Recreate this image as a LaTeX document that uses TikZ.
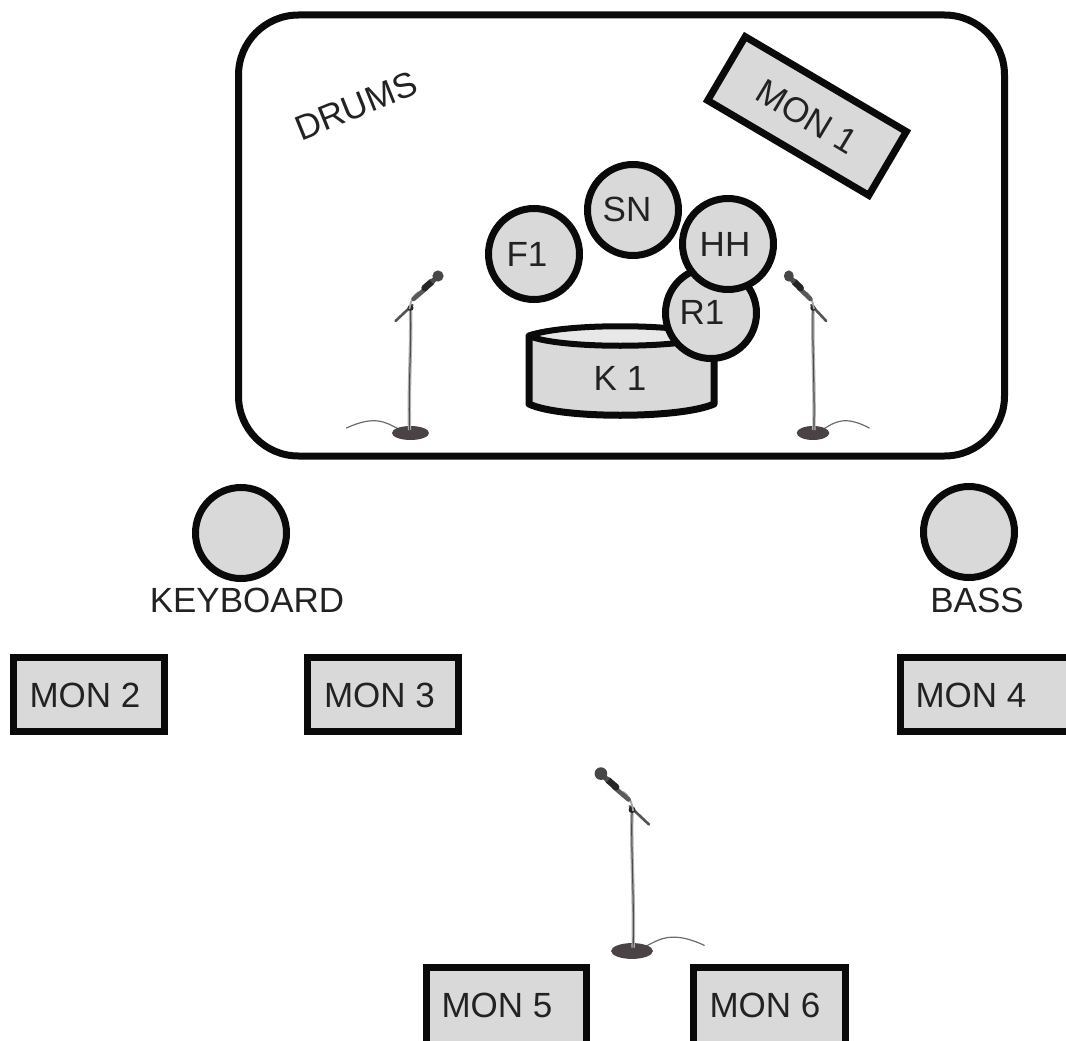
\documentclass[tikz,border=0pt]{standalone}
\usepackage{fontspec}
\setmainfont{Liberation Sans}
\definecolor{fillgray}{HTML}{D9D9D9}
\definecolor{topgray}{HTML}{E8E8E8}
\definecolor{inkc}{HTML}{0A0A0A}
\definecolor{txtc}{HTML}{222222}
\definecolor{basec}{HTML}{4A4245}
\tikzset{
  lab/.style={font=\fontsize{35}{37}\selectfont, text=txtc, inner sep=0pt},
  drumc/.style={circle, draw=inkc, line width=7pt, fill=fillgray, minimum size=91pt, inner sep=0pt, outer sep=0pt},
  monbox/.style={rectangle, draw=inkc, line width=7pt, fill=fillgray, inner sep=0pt, outer sep=0pt},
  mic/.pic={
    \draw[gray!85!black, line width=1.2pt, line cap=round] (-12,-4) .. controls (-25,-11) and (-36,-18) .. (-64,-5);
    \fill[basec] (0,0) ellipse (18.5 and 7);
    \draw[gray!60, line width=3.4pt] (-1,-3) .. controls (-2,-50) and (1,-90) .. (0,-122);
    \draw[black!70, line width=1.1pt] (-1,-3) .. controls (-2,-50) and (1,-90) .. (0,-122);
    \draw[gray!65!black, line width=2.6pt, line cap=round] (-15,-112) -- (2,-128);
    \fill[black!85] (0,-125) circle (3);
    \draw[gray!70, line width=1.8pt] (-1,-124) .. controls (0,-132) and (3,-138) .. (8,-141);
    \draw[gray!70!black, line width=4.5pt, line cap=round] (3,-134) -- (16,-145);
    \draw[black!85, line width=6.5pt, line cap=round] (14,-145) -- (21,-151);
    \draw[black!70, line width=5pt] (21,-151) -- (27,-156);
    \fill[black!72] (27.5,-157) circle (5.6);
  }
}
\begin{document}
\begin{tikzpicture}[x=1pt,y=-1pt]
\useasboundingbox (0,0) rectangle (1066,1041);
\clip (0,0) rectangle (1066,1041);
% stage riser
\node[rectangle, draw=inkc, line width=7pt, rounded corners=60pt, minimum width=766pt, minimum height=441pt, inner sep=0pt, outer sep=0pt] (riser) at (621.5,235.5) {};
\node[lab, rotate=22] (drums) at (356,106) {DRUMS};
\node[monbox, rotate=-30.5, minimum width=187pt, minimum height=74pt] (mon1) at (807,116) {};
\node[lab, rotate=-31] (mon1t) at (807,117) {MON 1};
% kit
\draw[inkc, line width=7pt, fill=fillgray, line join=round] (529,336) -- (529,404) .. controls (560,419) and (680,419) .. (714,404) -- (714,336) .. controls (680,325) and (560,325) .. (529,336) -- cycle;
\draw[inkc, line width=6pt, fill=topgray, line join=round] (529,336) .. controls (560,323) and (680,323) .. (714,336) .. controls (680,349) and (560,349) .. (529,336) -- cycle;
\node[lab] (k1) at (620,378) {K 1};
\node[drumc] (f1) at (534,254) {};
\node[lab] (f1t) at (527,254) {F1};
\node[drumc] (sn) at (633,210) {};
\node[lab] (snt) at (627,209) {SN};
\node[drumc] (r1) at (711,313) {};
\node[lab] (r1t) at (702,312) {R1};
\node[drumc] (hh) at (728,244) {};
\node[lab] (hht) at (725,244) {HH};
% mics
\pic at (410.5,433) {mic};
\pic[xscale=-0.88] at (813,433) {mic};
\pic[xscale=-1.13,yscale=1.13] at (632,951) {mic};
% front line
\node[drumc] (keys) at (241,533) {};
\node[drumc] (bass) at (969,532) {};
\node[lab] (keyslab) at (247,600) {KEYBOARD};
\node[lab] (basslab) at (977,600) {BASS};
\node[monbox, minimum width=151pt, minimum height=74pt] (mon2) at (89,694.5) {};
\node[lab] (mon2t) at (85,695) {MON 2};
\node[monbox, minimum width=151pt, minimum height=74pt] (mon3) at (382.5,694.5) {};
\node[lab] (mon3t) at (379.5,695) {MON 3};
\node[monbox, minimum width=170pt, minimum height=74pt, anchor=west] (mon4) at (900,694.5) {};
\node[lab] (mon4t) at (971,695) {MON 4};
\node[monbox, minimum width=160pt, minimum height=90pt, anchor=north west] (mon5) at (426,967) {};
\node[lab] (mon5t) at (497,1005) {MON 5};
\node[monbox, minimum width=152pt, minimum height=90pt, anchor=north west] (mon6) at (693,967) {};
\node[lab] (mon6t) at (765,1005) {MON 6};
\end{tikzpicture}
\end{document}
